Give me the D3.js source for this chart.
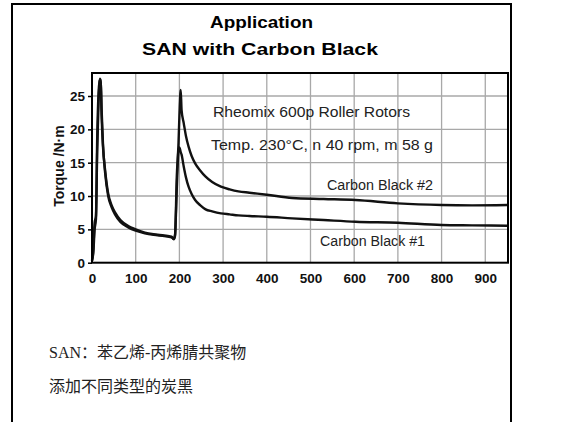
<!DOCTYPE html>
<html><head><meta charset="utf-8">
<script src="https://cdn.jsdelivr.net/npm/d3@7/dist/d3.min.js"></script>
<style>
html,body{margin:0;padding:0;background:#fff;}
svg{display:block;}
</style></head>
<body>
<script>
// ---- data ----
const timeS = [0,3,6,9,12,15,18,20,22,25,30,37,45,53,65,83,100,121,150,182,187,190,194,198,200,203,205,210,215,221,228,236,248,260,275,295,315,335,360,400,458,530,603,700,800,870,950];
const carbonBlack1 = [0.3,1.5,5,6.5,17,24,27.3,27.5,23,18,13.5,10,8.3,7.2,6.1,5.3,4.8,4.4,4.1,3.8,3.6,4.2,11,17,17.3,16.6,16.2,14.4,12.8,11.4,10.3,9.4,8.6,8.0,7.7,7.4,7.25,7.1,7.0,6.9,6.65,6.4,6.15,6.0,5.65,5.6,5.55];
const carbonBlack2 = [0.3,2,6,7,19,25.5,27.6,27,22,17.5,13.9,10.4,8.6,7.5,6.4,5.5,5.0,4.5,4.2,3.9,3.5,4.0,12.9,18,22,25.9,22.9,20.9,19.0,17.4,16.0,14.9,13.8,12.9,12.1,11.4,11.0,10.7,10.5,10.2,9.7,9.55,9.4,8.9,8.65,8.6,8.65];
const xTicks = [0,100,200,300,400,500,600,700,800,900];
const yTicks = [0,5,10,15,20,25];
const titleLines = ["Application","SAN with Carbon Black"];
const yTitle = "Torque /N·m";
const notes = ["Rheomix 600p  Roller Rotors","Temp. 230°C, n 40 rpm, m 58 g"];
const seriesLabels = ["Carbon Black #1","Carbon Black #2"];
const captionLines = ["SAN：苯乙烯-丙烯腈共聚物","添加不同类型的炭黑"];

const W = 577, H = 422;
const svg = d3.select("body").append("svg").attr("width", W).attr("height", H);

// outer frame
svg.append("rect").attr("x",12).attr("y",4).attr("width",499).attr("height",430)
  .attr("fill","none").attr("stroke","#000").attr("stroke-width",2);

const L = 92, R = 508, T = 73, B = 262.7;
const x = d3.scaleLinear().domain([0,952]).range([L,R]);
const y = d3.scaleLinear().domain([0,28.45]).range([B,T]);

const arial = "Arial, 'Liberation Sans', Helvetica, sans-serif";

// titles
svg.append("text").attr("x",261.5).attr("y",28.3).attr("text-anchor","middle")
  .attr("font-family",arial).attr("font-weight","bold").attr("font-size",17)
  .attr("textLength",103).attr("lengthAdjust","spacingAndGlyphs").text(titleLines[0]);
svg.append("text").attr("x",260).attr("y",55).attr("text-anchor","middle")
  .attr("font-family",arial).attr("font-weight","bold").attr("font-size",17)
  .attr("textLength",236).attr("lengthAdjust","spacingAndGlyphs").text(titleLines[1]);

// grid
const g = svg.append("g");
g.selectAll("line.vg").data(xTicks.filter(d=>d>0)).join("line")
  .attr("x1",d=>x(d)).attr("x2",d=>x(d)).attr("y1",T).attr("y2",B)
  .attr("stroke","#a8a8a8").attr("stroke-width",1.3);
g.selectAll("line.hg").data(yTicks.filter(d=>d>0)).join("line")
  .attr("x1",L).attr("x2",R).attr("y1",d=>y(d)).attr("y2",d=>y(d))
  .attr("stroke","#a8a8a8").attr("stroke-width",1.3);

// y axis ticks and labels
const yAxis = d3.axisLeft(y).tickValues(yTicks).tickSize(4).tickPadding(3).tickFormat(d3.format("d"));
const ya = svg.append("g").attr("transform",`translate(${L},0)`).call(yAxis);
ya.select(".domain").remove();
ya.selectAll("line").attr("stroke","#000").attr("stroke-width",1.5);
ya.selectAll("text").attr("font-family",arial).attr("font-weight","bold").attr("font-size",13.5).attr("fill","#111");

// x axis labels
const xAxis = d3.axisBottom(x).tickValues(xTicks).tickSize(0).tickPadding(11).tickFormat(d3.format("d"));
const xa = svg.append("g").attr("transform",`translate(0,${B})`).call(xAxis);
xa.select(".domain").remove();
xa.selectAll("text").attr("font-family",arial).attr("font-weight","bold").attr("font-size",13.5).attr("fill","#111");

// y title
svg.append("text").attr("transform","translate(64,166) rotate(-90)").attr("text-anchor","middle")
  .attr("font-family",arial).attr("font-weight","bold").attr("font-size",14).attr("fill","#111").text(yTitle);

// curves
const line = d3.line().x((d,i)=>x(timeS[i])).y(d=>y(d)).curve(d3.curveMonotoneX);
[carbonBlack1, carbonBlack2].forEach(s=>{
  svg.append("path").datum(s).attr("d",line).attr("fill","none")
    .attr("stroke","#111").attr("stroke-width",2.4).attr("stroke-linejoin","round");
});

// plot frame
svg.append("rect").attr("x",L).attr("y",T).attr("width",R-L).attr("height",B-T)
  .attr("fill","none").attr("stroke","#000").attr("stroke-width",2);

// annotations
const ann = [
  {t:notes[0], x:213, y:117.3, w:197},
  {t:notes[1], x:211, y:150, w:222},
  {t:seriesLabels[1], x:327, y:190, w:106},
  {t:seriesLabels[0], x:320, y:246, w:105}
];
svg.selectAll("text.ann").data(ann).join("text").attr("class","ann")
  .attr("x",d=>d.x).attr("y",d=>d.y).attr("font-family",arial).attr("font-size",14)
  .attr("fill","#222").attr("textLength",d=>d.w).attr("lengthAdjust","spacingAndGlyphs").text(d=>d.t);

// caption
const cjk = "'Liberation Serif','Noto Sans CJK SC',serif";
svg.append("text").attr("x",49).attr("y",358).attr("font-family",cjk).attr("font-size",16)
  .attr("fill","#222").text(captionLines[0]);
svg.append("text").attr("x",49).attr("y",392).attr("font-family",cjk).attr("font-size",16)
  .attr("fill","#222").text(captionLines[1]);
</script>
</body></html>
